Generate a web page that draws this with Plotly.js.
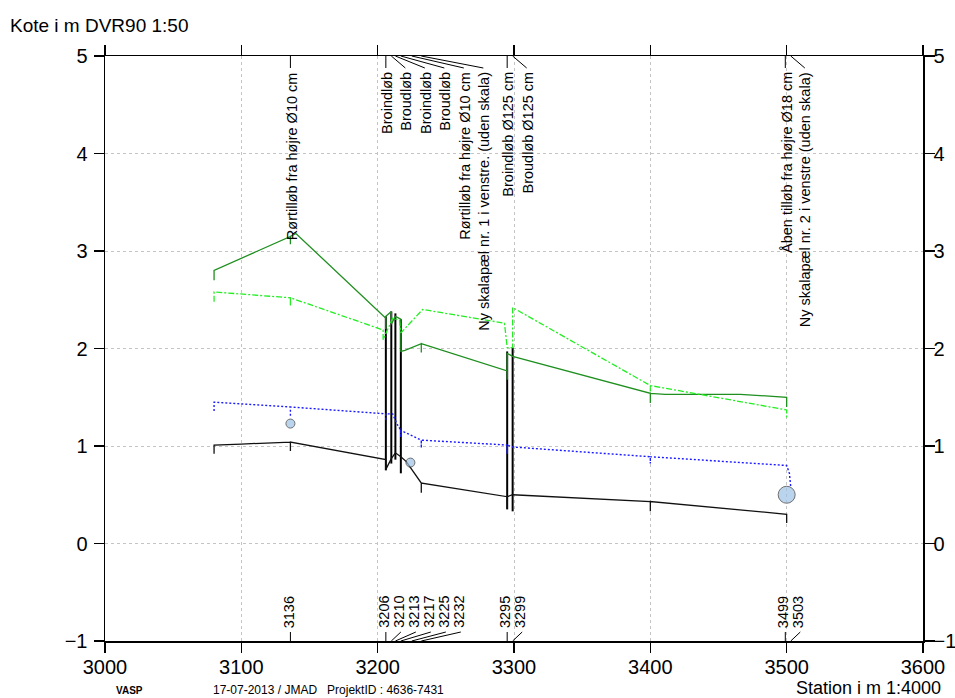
<!DOCTYPE html>
<html><head><meta charset="utf-8">
<script src="https://cdn.plot.ly/plotly-3.0.1.min.js"></script>
<style>html,body{margin:0;padding:0;background:#fff}</style>
</head><body><div id="chart" style="width:955px;height:698px"></div>
<script>
// ---- data (station in m, level in m DVR90) ----
const terrainX = [3080,3080,3136,3136,3136,3140,3206,3206,3206,3210,3210,3213,3217,3217,3220,3232,3232,3232,3295,3295,3295,3299,3400,3400,3400,3411,3466,3500,3500];
const terrainY = [2.70,2.80,3.15,3.07,3.15,3.18,2.31,2.20,2.33,2.38,2.25,2.33,2.30,1.97,1.98,2.05,1.96,2.05,1.77,1.68,1.95,1.92,1.54,1.44,1.54,1.53,1.53,1.50,1.40];

const waterX = [3080,3080,3136,3136,3136,3204,3204,3211,3216,3217,3233,3293,3295,3299,3299,3400,3400,3400,3500,3500];
const waterY = [2.48,2.58,2.52,2.44,2.52,2.19,2.09,2.31,2.29,2.16,2.40,2.26,2.01,2.01,2.42,1.62,1.56,1.62,1.37,1.29];

const blueX = [3080,3080,3136,3136,3136,3206,3206,3206,3211,3214,3217,3217,3217,3232,3232,3232,3295,3295,3295,3299,3400,3400,3400,3500,3502,3503];
const blueY = [1.36,1.45,1.40,1.30,1.40,1.33,1.26,1.33,1.33,1.23,1.16,1.09,1.16,1.06,0.98,1.06,1.01,0.92,1.01,0.99,0.89,0.82,0.89,0.80,0.72,0.58];

const invertX = [3080,3080,3100,3136,3136,3136,3206,3206,3210,3213,3217,3221,3232,3232,3232,3295,3295,3295,3299,3400,3400,3400,3500,3500];
const invertY = [0.92,1.01,1.02,1.04,0.95,1.04,0.86,0.76,0.87,0.93,0.89,0.84,0.62,0.52,0.62,0.48,0.36,0.48,0.50,0.43,0.33,0.43,0.30,0.21];

const wallStations = [3206,3210,3213,3217,3295,3299];
const wallBottom   = [0.75,0.82,0.86,0.72,0.35,0.33];
const wallTop      = [2.33,2.38,2.36,2.30,1.97,2.01];

const pointX = [3136,3224,3500];
const pointY = [1.23,0.83,0.50];

const labelStations = [3136,3206,3210,3213,3217,3225,3232,3295,3299,3499,3503];
const stationLabels = ["3136","3206","3210","3213","3217","3225","3232","3295","3299","3499","3503"];
const topLabels = ["Rørtilløb fra højre Ø10 cm","Broindløb","Broudløb","Broindløb","Broudløb",
  "Rørtilløb fra højre Ø10 cm","Ny skalapæl nr. 1 i venstre. (uden skala)",
  "Broindløb Ø125 cm","Broudløb Ø125 cm","Åben tilløb fra højre Ø18 cm",
  "Ny skalapæl nr. 2 i venstre (uden skala)"];

const xTicks = [3000,3100,3200,3300,3400,3500,3600];
const yTicks = [-1,0,1,2,3,4,5];

// ---- layout constants ----
const W = 955, H = 698;
const M = {l:105, r:32, t:56, b:57};
const xRange = [3000,3600];
const plotW = W - M.l - M.r;
const plotH = H - M.t - M.b;
const pxPerM = plotW / (xRange[1]-xRange[0]);
const FONT = 'Liberation Sans, Arial, sans-serif';
const LABEL_SIZE = 14.5;

const ctx = document.createElement('canvas').getContext('2d');
ctx.font = LABEL_SIZE + 'px "Liberation Sans", Arial, sans-serif';
const textLen = t => ctx.measureText(t).width;

// build wall segments
const wallX = [], wallY = [];
wallStations.forEach((s,i)=>{ wallX.push(s,s,null); wallY.push(wallBottom[i],wallTop[i],null); });

const traces = [
  {x: wallX, y: wallY, mode:'lines', line:{color:'#000', width:2}, hoverinfo:'skip'},
  {x: terrainX, y: terrainY, mode:'lines', line:{color:'#1f8f1f', width:1.3}},
  {x: waterX, y: waterY, mode:'lines', line:{color:'#22ee22', width:1.3, dash:'6px,2px,2px,2px'}},
  {x: blueX, y: blueY, mode:'lines', line:{color:'#1a1aff', width:1.4, dash:'2px,2px'}},
  {x: invertX, y: invertY, mode:'lines', line:{color:'#111', width:1.3}},
  {x: pointX, y: pointY, mode:'markers', marker:{size:[9,9,17], color:'#9dc3e6', line:{color:'#333', width:1}}},
  {x: [xRange[0]], y:[0], yaxis:'y2', mode:'markers', marker:{opacity:0}, hoverinfo:'skip'}
];

// spread label positions (pixels relative to station)
function spread(gap){
  const out = []; let prev = -1e9;
  labelStations.forEach(s=>{
    const p = (s - xRange[0])*pxPerM;
    const q = Math.max(p, prev + gap);
    out.push(q - p); prev = q;
  });
  return out;
}
const topOff = spread(19.5);
const botOff = spread(15);

const annotations = [], shapes = [];
labelStations.forEach((s,i)=>{
  // leader lines
  shapes.push({type:'line', xref:'x', yref:'paper', xsizemode:'pixel', xanchor:s, x0:0, x1:topOff[i],
    ysizemode:'pixel', yanchor:1, y0:0, y1:-12, line:{color:'#000', width:1}});
  shapes.push({type:'line', xref:'x', yref:'paper', xsizemode:'pixel', xanchor:s, x0:0, x1:botOff[i],
    ysizemode:'pixel', yanchor:0, y0:0, y1:9, line:{color:'#000', width:1}});
  const lt = textLen(topLabels[i]);
  annotations.push({
    x: s, xref:'x', y: 1, yref:'paper', text: topLabels[i], textangle:-90, showarrow:false,
    xshift: topOff[i] + 1, yshift: -(16 + lt/2), xanchor:'center', yanchor:'middle',
    font:{family:FONT, size:LABEL_SIZE, color:'#000'}, borderpad:0
  });
  const lb = textLen(stationLabels[i]);
  annotations.push({
    x: s, xref:'x', y: 0, yref:'paper', text: stationLabels[i], textangle:-90, showarrow:false,
    xshift: botOff[i] - 2, yshift: (13 + lb/2), xanchor:'center', yanchor:'middle',
    font:{family:FONT, size:LABEL_SIZE, color:'#000'}, borderpad:0
  });
});
annotations.push({text:'Station i m 1:4000', xref:'paper', yref:'paper',
  x:(942-M.l)/plotW, y:-(688-(H-M.b))/plotH, xanchor:'right', yanchor:'middle', showarrow:false,
  font:{family:FONT, size:18, color:'#000'}, borderpad:0});
annotations.push({text:'<b>VASP</b>', xref:'paper', yref:'paper',
  x:(115-M.l)/plotW, y:-(690-(H-M.b))/plotH, xanchor:'left', yanchor:'middle', showarrow:false,
  font:{family:FONT, size:10, color:'#000'}, borderpad:0});
annotations.push({text:'17-07-2013 / JMAD\u00a0\u00a0\u00a0ProjektID : 4636-7431', xref:'paper', yref:'paper',
  x:(212-M.l)/plotW, y:-(690-(H-M.b))/plotH, xanchor:'left', yanchor:'middle', showarrow:false,
  font:{family:FONT, size:12, color:'#000'}, borderpad:0});

const axCommon = {
  showline:true, linecolor:'#000', linewidth:1.5, ticks:'outside', ticklen:10, tickwidth:1.5, tickcolor:'#000',
  tickfont:{family:FONT, size:20, color:'#000'}, zeroline:false, fixedrange:true
};
const layout = {
  width:W, height:H, margin:M, paper_bgcolor:'#fff', plot_bgcolor:'#fff', showlegend:false,
  title:{text:'Kote i m DVR90 1:50', x:10/W, xanchor:'left', xref:'container', y:1-25/H, yanchor:'middle',
    font:{family:FONT, size:19, color:'#000'}},
  xaxis: Object.assign({}, axCommon, {range:xRange, tickvals:xTicks, mirror:'ticks', ticklabelstandoff:-3,
    showgrid:true, gridcolor:'#c4c4c4', griddash:'dot', gridwidth:1}),
  yaxis: Object.assign({}, axCommon, {range:[-1,5], tickvals:yTicks, side:'left', ticklabelstandoff:2,
    showgrid:true, gridcolor:'#c4c4c4', griddash:'dot', gridwidth:1}),
  yaxis2: Object.assign({}, axCommon, {range:[-1,5], tickvals:yTicks, side:'right', overlaying:'y',
    ticklabelstandoff:-5, showgrid:false}),
  annotations: annotations,
  shapes: shapes
};
Plotly.newPlot('chart', traces, layout, {displayModeBar:false, staticPlot:true});
</script></body></html>
